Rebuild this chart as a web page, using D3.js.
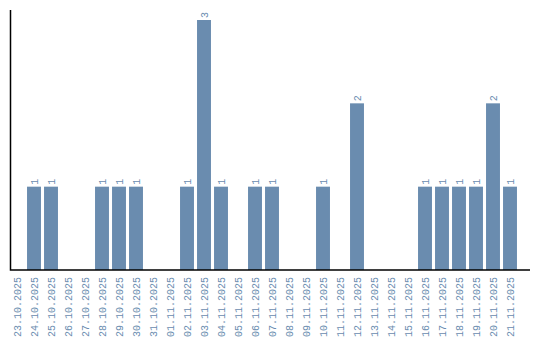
<!DOCTYPE html>
<html>
<head>
<meta charset="utf-8">
<script src="https://cdn.jsdelivr.net/npm/d3@7"></script>
<style>
    body { margin: 0; background: #fff; }
    .axis-line { stroke: #000; stroke-width: 1.5; fill: none; }
    .tick-label, .value-label { font-family: "Liberation Mono", monospace; font-size: 10px; fill: #6a8caf; }
    .bar { fill: #6a8caf; }
</style>
</head>
<body>
<div class="chart"></div>
<script>
const dates = [
    '23.10.2025', '24.10.2025', '25.10.2025', '26.10.2025', '27.10.2025', '28.10.2025',
    '29.10.2025', '30.10.2025', '31.10.2025', '01.11.2025', '02.11.2025', '03.11.2025',
    '04.11.2025', '05.11.2025', '06.11.2025', '07.11.2025', '08.11.2025', '09.11.2025',
    '10.11.2025', '11.11.2025', '12.11.2025', '13.11.2025', '14.11.2025', '15.11.2025',
    '16.11.2025', '17.11.2025', '18.11.2025', '19.11.2025', '20.11.2025', '21.11.2025'
];
const counts = [
    0, 1, 1, 0, 0, 1,
    1, 1, 0, 0, 1, 3,
    1, 0, 1, 1, 0, 0,
    1, 0, 2, 0, 0, 0,
    1, 1, 1, 1, 2, 1
];

const width = 540;
const height = 340;
const margin = {top: 10, right: 10, bottom: 70, left: 10};
const baseY = height - margin.bottom;

const x = d3.scaleBand()
    .domain(dates)
    .range([8.5, 8.5 + 17 * dates.length])
    .paddingInner(0.18)
    .paddingOuter(0.09);

const y = d3.scaleLinear()
    .domain([0, 3])
    .range([baseY, 20]);

const svg = d3.select('.chart').append('svg')
    .attr('width', width)
    .attr('height', height);

const data = dates.map((d, i) => ({date: d, value: counts[i]}));

svg.selectAll('rect.bar')
    .data(data.filter(d => d.value > 0))
    .enter().append('rect')
    .attr('class', 'bar')
    .attr('x', d => x(d.date))
    .attr('y', d => y(d.value))
    .attr('width', x.bandwidth())
    .attr('height', d => baseY - y(d.value));

// value labels, rotated like the ticks
svg.selectAll('text.value-label')
    .data(data.filter(d => d.value > 0))
    .enter().append('text')
    .attr('class', 'value-label')
    .attr('transform', d => 'translate(' + (x(d.date) + x.bandwidth() / 2 + 3.5) + ',' + (y(d.value) - 2) + ') rotate(-90)')
    .attr('text-anchor', 'start')
    .text(d => d.value);

// date labels
svg.selectAll('text.tick-label')
    .data(dates)
    .enter().append('text')
    .attr('class', 'tick-label')
    .attr('transform', d => 'translate(' + (x(d) + x.bandwidth() / 2 + 3.5) + ',' + (baseY + 7) + ') rotate(-90)')
    .attr('text-anchor', 'end')
    .text(d => d);

svg.append('path')
    .attr('class', 'axis-line')
    .attr('d', 'M ' + (margin.left + 0.5) + ',' + margin.top + ' V ' + baseY + ' H ' + (width - margin.right));
</script>
</body>
</html>
